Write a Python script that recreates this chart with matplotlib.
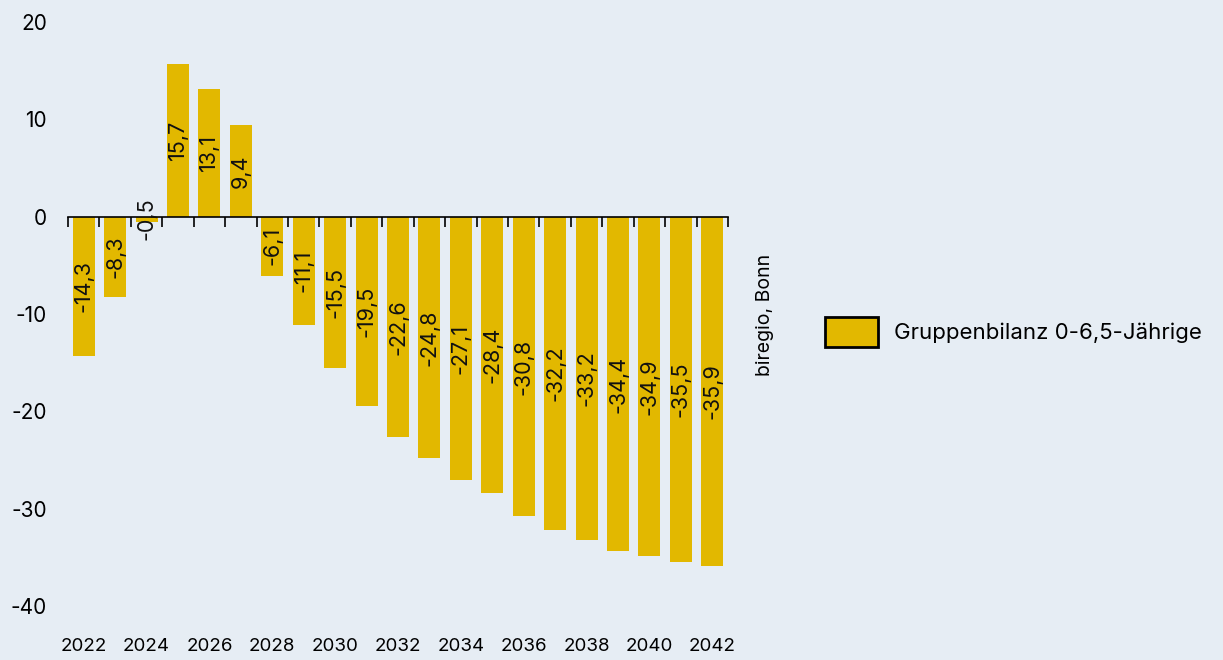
import matplotlib.pyplot as plt
import numpy as np

years = list(range(2022, 2043))
values = [-14.3, -8.3, -0.5, 15.7, 13.1, 9.4, -6.1, -11.1, -15.5, -19.5, -22.6,
          -24.8, -27.1, -28.4, -30.8, -32.2, -33.2, -34.4, -34.9, -35.5, -35.9]
series_name = "Gruppenbilanz 0-6,5-Jährige"
source = "biregio, Bonn"

BG = "#e6edf4"
BAR = "#e2b800"

plt.rcParams["font.family"] = ["Inter", "DejaVu Sans"]
plt.rcParams["axes.unicode_minus"] = False

fig = plt.figure(figsize=(12.23, 6.6), dpi=100, facecolor=BG)
ax = fig.add_axes([68 / 1223, 1 - 606 / 660, 660 / 1223, 584 / 660])
ax.set_facecolor(BG)

bars = ax.bar(years, values, width=0.7, color=BAR, label=series_name, zorder=2)

# value labels, rotated, centred in the bar
for x, v in zip(years, values):
    ax.text(x, v / 2, f"{v:.1f}".replace(".", ","), rotation=90,
            ha="center", va="center", fontsize=15.5, color="#111111", zorder=3)

ax.set_xlim(2021.5, 2042.5)
ax.set_ylim(-40, 20)
ax.set_yticks([20, 10, 0, -10, -20, -30, -40])
ax.tick_params(axis="y", length=0, labelsize=15, pad=15)

for s in ["top", "right", "left"]:
    ax.spines[s].set_visible(False)
ax.spines["bottom"].set_position(("data", 0))
ax.spines["bottom"].set_linewidth(1.2)
ax.set_xticks(np.arange(2021.5, 2043, 1))
ax.tick_params(axis="x", direction="out", length=7, width=1.2, labelbottom=False)

# year labels at the bottom
sec = ax.secondary_xaxis(0)
sec.set_xticks(years[::2])
sec.spines["bottom"].set_visible(False)
sec.tick_params(axis="x", length=0, labelsize=13.5, pad=23)

fig.text(765 / 1223, 1 - 315 / 660, source, rotation=90, ha="center", va="center", fontsize=14)

leg = fig.legend(handles=[bars], labels=[series_name], loc="center left",
                 bbox_to_anchor=(825 / 1223, 1 - 332 / 660), frameon=False,
                 borderpad=0, borderaxespad=0, fontsize=16,
                 handlelength=2.4, handleheight=1.7, handletextpad=0.7)
for p in leg.get_patches():
    p.set_edgecolor("black")
    p.set_linewidth(2)

fig.savefig("out.png", dpi=100, facecolor=BG)
